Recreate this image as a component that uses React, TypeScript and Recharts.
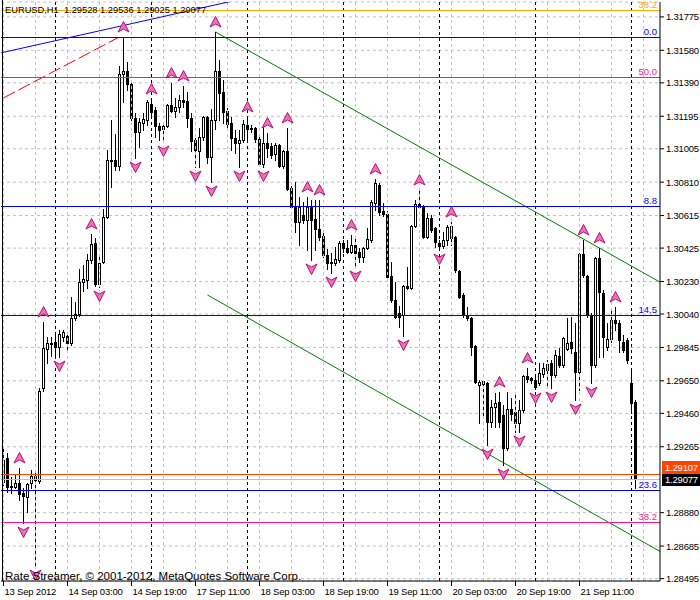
import React from 'react';
import { ComposedChart, Bar, Scatter, XAxis, YAxis, CartesianGrid, ReferenceLine } from 'recharts';

const FONT = '"Liberation Sans", Arial, sans-serif';

// Hourly EURUSD candles, 13 Sep 2012 11:00 onward
const OPEN = [
  1.29059, 1.29199, 1.29030, 1.29030, 1.29053, 1.28995, 1.28972, 1.29053, 1.29094, 1.29065,
  1.29608, 1.29836, 1.29871, 1.29877, 1.29848, 1.29906, 1.29912, 1.29871, 1.30017, 1.30040,
  1.30227, 1.30239, 1.30356, 1.30455, 1.30215, 1.30344, 1.30607, 1.30940, 1.30940, 1.30905,
  1.31442, 1.31459, 1.31383, 1.31185, 1.31103, 1.31156, 1.31173, 1.31267, 1.31232, 1.31138,
  1.31121, 1.31138, 1.31261, 1.31226, 1.31249, 1.31290, 1.31284, 1.31185, 1.31056, 1.30992,
  1.31074, 1.31191, 1.30957, 1.31173, 1.31459, 1.31337, 1.31226, 1.31156, 1.31068, 1.31039,
  1.31056, 1.31144, 1.31121, 1.31126, 1.31062, 1.30916, 1.31039, 1.31021, 1.30975, 1.31027,
  1.30905, 1.30992, 1.30776, 1.30665, 1.30578, 1.30618, 1.30589, 1.30665, 1.30595, 1.30537,
  1.30496, 1.30385, 1.30344, 1.30338, 1.30356, 1.30455, 1.30426, 1.30402, 1.30443, 1.30402,
  1.30373, 1.30426, 1.30472, 1.30688, 1.30794, 1.30642, 1.30624, 1.30262, 1.30122, 1.30046,
  1.30034, 1.30204, 1.30192, 1.30554, 1.30683, 1.30665, 1.30490, 1.30601, 1.30542, 1.30455,
  1.30437, 1.30472, 1.30484, 1.30490, 1.30291, 1.30151, 1.30034, 1.30017, 1.29853, 1.29626,
  1.29632, 1.29637, 1.29410, 1.29497, 1.29526, 1.29450, 1.29258, 1.29485, 1.29468, 1.29404,
  1.29480, 1.29678, 1.29666, 1.29655, 1.29637, 1.29690, 1.29713, 1.29754, 1.29684, 1.29795,
  1.29742, 1.29836, 1.29877, 1.29818, 1.29702, 1.30390, 1.30262, 1.30034, 1.29742, 1.30367,
  1.30163, 1.29848, 1.29894, 1.30005, 1.29988, 1.29877, 1.29888, 1.29637, 1.29528,
];
const HIGH = [
  1.29269, 1.29228, 1.29088, 1.29106, 1.29141, 1.29024, 1.29053, 1.29129, 1.29129, 1.29608,
  1.29994, 1.29906, 1.29906, 1.29923, 1.29947, 1.29947, 1.29923, 1.30140, 1.30110, 1.30303,
  1.30326, 1.30391, 1.30507, 1.30484, 1.30391, 1.30653, 1.30998, 1.31173, 1.31091, 1.31489,
  1.31658, 1.31512, 1.31407, 1.31214, 1.31185, 1.31214, 1.31290, 1.31296, 1.31249, 1.31156,
  1.31156, 1.31267, 1.31389, 1.31302, 1.31319, 1.31372, 1.31337, 1.31214, 1.31068, 1.31126,
  1.31197, 1.31197, 1.31237, 1.31687, 1.31524, 1.31407, 1.31243, 1.31191, 1.31115, 1.31115,
  1.31173, 1.31191, 1.31144, 1.31132, 1.31074, 1.31132, 1.31097, 1.31039, 1.31039, 1.31033,
  1.30998, 1.31126, 1.30788, 1.30811, 1.30724, 1.30694, 1.30724, 1.30706, 1.30706, 1.30706,
  1.30513, 1.30420, 1.30396, 1.30432, 1.30467, 1.30472, 1.30472, 1.30502, 1.30484, 1.30426,
  1.30432, 1.30542, 1.30706, 1.30829, 1.30805, 1.30688, 1.30642, 1.30344, 1.30227, 1.30087,
  1.30210, 1.30315, 1.30560, 1.30706, 1.30764, 1.30677, 1.30630, 1.30618, 1.30548, 1.30472,
  1.30519, 1.30560, 1.30578, 1.30496, 1.30297, 1.30163, 1.30081, 1.30023, 1.29859, 1.29655,
  1.29655, 1.29643, 1.29538, 1.29579, 1.29585, 1.29509, 1.29585, 1.29550, 1.29579, 1.29538,
  1.29684, 1.29725, 1.29672, 1.29678, 1.29754, 1.29754, 1.29772, 1.29772, 1.29830, 1.29842,
  1.29906, 1.30017, 1.30023, 1.29988, 1.30396, 1.30472, 1.30268, 1.30046, 1.30373, 1.30426,
  1.30180, 1.29988, 1.30075, 1.30081, 1.30005, 1.29918, 1.29900, 1.29725, 1.29536,
];
const LOW = [
  1.29042, 1.29001, 1.28995, 1.29024, 1.28954, 1.28820, 1.28884, 1.29024, 1.28569, 1.29053,
  1.29591, 1.29754, 1.29795, 1.29789, 1.29789, 1.29883, 1.29830, 1.29859, 1.30005, 1.30029,
  1.30175, 1.30192, 1.30338, 1.30204, 1.30198, 1.30338, 1.30601, 1.30782, 1.30881, 1.30881,
  1.31278, 1.31348, 1.31173, 1.30951, 1.31016, 1.31115, 1.31144, 1.31185, 1.31074, 1.31056,
  1.31045, 1.31132, 1.31220, 1.31191, 1.31220, 1.31249, 1.31132, 1.30992, 1.30899, 1.30899,
  1.31056, 1.30922, 1.30811, 1.31121, 1.31173, 1.31156, 1.31132, 1.30998, 1.30980, 1.30899,
  1.31045, 1.31056, 1.31103, 1.31045, 1.30910, 1.30899, 1.30957, 1.30951, 1.30940, 1.30899,
  1.30893, 1.30764, 1.30659, 1.30519, 1.30443, 1.30572, 1.30414, 1.30356, 1.30414, 1.30472,
  1.30373, 1.30303, 1.30280, 1.30326, 1.30344, 1.30402, 1.30396, 1.30396, 1.30315, 1.30344,
  1.30344, 1.30420, 1.30461, 1.30648, 1.30618, 1.30613, 1.30250, 1.30110, 1.30017, 1.29964,
  1.29912, 1.30186, 1.30186, 1.30548, 1.30659, 1.30484, 1.30484, 1.30519, 1.30432, 1.30414,
  1.30426, 1.30443, 1.30443, 1.30286, 1.30134, 1.30023, 1.30005, 1.29801, 1.29637, 1.29404,
  1.29439, 1.29275, 1.29380, 1.29380, 1.29380, 1.29158, 1.29246, 1.29421, 1.29351, 1.29351,
  1.29468, 1.29643, 1.29637, 1.29602, 1.29626, 1.29672, 1.29608, 1.29608, 1.29672, 1.29731,
  1.29731, 1.29830, 1.29812, 1.29538, 1.29596, 1.30256, 1.30023, 1.29637, 1.29731, 1.29789,
  1.29789, 1.29830, 1.29877, 1.29947, 1.29818, 1.29818, 1.29754, 1.29462, 1.29025,
];
const CLOSE = [
  1.29188, 1.29030, 1.29036, 1.29053, 1.28989, 1.28977, 1.29047, 1.29094, 1.29071, 1.29591,
  1.29842, 1.29871, 1.29865, 1.29848, 1.29923, 1.29935, 1.29871, 1.30017, 1.30040, 1.30227,
  1.30245, 1.30356, 1.30449, 1.30215, 1.30338, 1.30607, 1.30940, 1.30934, 1.30905, 1.31442,
  1.31459, 1.31383, 1.31185, 1.31103, 1.31162, 1.31179, 1.31278, 1.31220, 1.31138, 1.31115,
  1.31138, 1.31261, 1.31226, 1.31249, 1.31290, 1.31278, 1.31185, 1.31051, 1.30998, 1.31074,
  1.31191, 1.30957, 1.31173, 1.31459, 1.31331, 1.31220, 1.31150, 1.31068, 1.31039, 1.31056,
  1.31150, 1.31121, 1.31124, 1.31062, 1.30916, 1.31039, 1.31010, 1.30969, 1.31027, 1.30905,
  1.30992, 1.30770, 1.30665, 1.30578, 1.30665, 1.30589, 1.30665, 1.30589, 1.30537, 1.30490,
  1.30385, 1.30338, 1.30340, 1.30361, 1.30455, 1.30426, 1.30402, 1.30443, 1.30396, 1.30373,
  1.30426, 1.30478, 1.30694, 1.30805, 1.30636, 1.30624, 1.30256, 1.30122, 1.30023, 1.30023,
  1.30204, 1.30192, 1.30554, 1.30683, 1.30665, 1.30490, 1.30601, 1.30531, 1.30461, 1.30437,
  1.30472, 1.30548, 1.30554, 1.30297, 1.30140, 1.30034, 1.30017, 1.29848, 1.29643, 1.29643,
  1.29649, 1.29410, 1.29497, 1.29520, 1.29410, 1.29258, 1.29485, 1.29456, 1.29404, 1.29480,
  1.29678, 1.29661, 1.29655, 1.29614, 1.29696, 1.29725, 1.29748, 1.29684, 1.29801, 1.29742,
  1.29900, 1.29871, 1.29842, 1.29702, 1.30390, 1.30268, 1.30034, 1.29742, 1.30367, 1.30169,
  1.29906, 1.29894, 1.30005, 1.29988, 1.29888, 1.29830, 1.29772, 1.29520, 1.29077,
];

const TIME_TICK_BARS = [0, 16, 32, 48, 64, 80, 96, 112, 128, 144];
const TIME_TICK_LABELS = [
  '13 Sep 2012', '14 Sep 03:00', '14 Sep 19:00', '17 Sep 11:00', '18 Sep 03:00',
  '18 Sep 19:00', '19 Sep 11:00', '20 Sep 03:00', '20 Sep 19:00', '21 Sep 11:00',
];
const PRICE_TICKS = [
  1.31775, 1.3158, 1.3139, 1.31195, 1.31005, 1.3081, 1.30615, 1.30425, 1.3023,
  1.3004, 1.29845, 1.2965, 1.2946, 1.29265, 1.2888, 1.28685, 1.28495,
];
const GRID_BARS = [0, 8, 16, 24, 32, 40, 48, 56, 64, 72, 80, 88, 96, 104, 112, 120, 128, 136, 144, 152, 160];
const DAY_SEPARATOR_BARS = [13, 37, 61, 85, 109, 133, 157];
const UP_FRACTAL_BARS = [4, 10, 22, 30, 37, 42, 45, 53, 61, 66, 71, 76, 79, 87, 93, 104, 112, 124, 131, 145, 149, 153];
const DOWN_FRACTAL_BARS = [5, 8, 14, 24, 33, 40, 48, 52, 59, 65, 77, 82, 88, 100, 109, 121, 125, 129, 133, 137, 143, 147];

const LEVEL_PRICES = [1.31816, 1.31658, 1.31424, 1.30671, 1.30034, 1.29012, 1.28826];
const LEVEL_LABELS = ['38.2', '0.0', '50.0', '8.8', '14.5', '23.6', '38.2'];
const LEVEL_COLORS = ['#ffa500', '#0000ff', '#ff1493', '#0000ff', '#0000ff', '#0000ff', '#ff1493'];

const ASK_PRICE = 1.29107;
const BID_PRICE = 1.29077;

// trend lines: [barFrom, priceFrom, barTo, priceTo]
const TREND_LINES = [
  [-1, 1.31563, 60, 1.31882],
  [0, 1.31302, 28.5, 1.31652],
  [53, 1.31687, 170, 1.30149],
  [51, 1.30151, 170, 1.28576],
];
const TREND_COLORS = ['#0000ff', '#ff0000', '#008000', '#008000'];
const TREND_DASH = [undefined, '13 4', undefined, undefined];

const HEADER = 'EURUSD,H1  1.29528 1.29536 1.29025 1.29077';
const COPYRIGHT = 'Rate Streamer, \u00A9 2001-2012, MetaQuotes Software Corp.';

const rows = OPEN.map((o, i) => ({ i, o, h: HIGH[i], l: LOW[i], c: CLOSE[i], range: [LOW[i], HIGH[i]] }));
const upData = UP_FRACTAL_BARS.map((i) => ({ i, price: HIGH[i] }));
const downData = DOWN_FRACTAL_BARS.map((i) => ({ i, price: LOW[i] }));

const Candle = (props: any) => {
  const { x, y, width, height, payload } = props;
  if (!payload || x == null || y == null) return null;
  const { o, h, l, c } = payload;
  const cx = Math.floor(x + width / 2) + 0.5;
  const top = Math.min(y, y + height);
  const bot = Math.max(y, y + height);
  const k = h - l > 0 ? (bot - top) / (h - l) : 0;
  const yO = top + (h - o) * k;
  const yC = top + (h - c) * k;
  const bull = c >= o;
  const bTop = Math.round(Math.min(yO, yC)) + 0.5;
  const bBot = Math.round(Math.max(yO, yC)) + 0.5;
  return (
    <g>
      <line x1={cx} x2={cx} y1={Math.round(top)} y2={Math.round(bot) + 1} stroke="#000" strokeWidth={1} />
      {bBot - bTop < 1 ? (
        <line x1={cx - 1.5} x2={cx + 1.5} y1={bTop} y2={bTop} stroke="#000" strokeWidth={1} />
      ) : (
        <rect x={cx - 1} y={bTop} width={2} height={bBot - bTop} fill={bull ? '#fff' : '#000'} stroke="#000" strokeWidth={1} />
      )}
    </g>
  );
};

const UpGlyph = (p: any) =>
  p.cx == null ? null : (
    <path
      transform={`translate(${Math.floor(p.cx) + 0.5},${Math.round(p.cy) - 10})`}
      d="M0,-5.5 L5.5,5 L0,2 L-5.5,5 Z"
      fill="#e574b9"
      stroke="#b8106f"
      strokeWidth={1}
    />
  );
const DownGlyph = (p: any) =>
  p.cx == null ? null : (
    <path
      transform={`translate(${Math.floor(p.cx) + 0.5},${Math.round(p.cy) + 9})`}
      d="M0,5.5 L5.5,-5 L0,-2 L-5.5,-5 Z"
      fill="#e574b9"
      stroke="#b8106f"
      strokeWidth={1}
    />
  );

// Horizontal level line drawn as a shape snapped to a whole pixel row
const LevelShape = (color: string) => (p: any) => {
  const y = Math.round(p.y1 ?? 0) + 0.5;
  return <line x1={p.x1} x2={p.x2} y1={y} y2={y} stroke={color} strokeWidth={1} />;
};

const fibLabel = (text: string, color: string) => (p: any) => {
  const vb = p.viewBox || {};
  return (
    <text x={vb.x + vb.width - 3} y={vb.y - 2} textAnchor="end" fill={color} fontSize={9.5} fontFamily={FONT}>
      {text}
    </text>
  );
};

const priceTag = (text: string, bg: string, fg: string, shift: number) => (p: any) => {
  const vb = p.viewBox || {};
  const x0 = vb.x + vb.width;
  const yc = Math.round(vb.y) + shift;
  return (
    <g>
      <rect x={x0 + 2} y={yc - 6} width={40} height={13} fill={bg} />
      <text x={x0 + 5} y={yc + 4} fill={fg} fontSize={9.5} letterSpacing={-0.2} fontFamily={FONT}>
        {text}
      </text>
    </g>
  );
};

const XTick = (p: any) => {
  const idx = TIME_TICK_BARS.indexOf(p.payload.value);
  return (
    <text x={p.x + 1} y={p.y + 7} fontSize={9.5} letterSpacing={-0.2} fontFamily={FONT} fill="#000" textAnchor="start">
      {TIME_TICK_LABELS[idx]}
    </text>
  );
};

const YTick = (p: any) => (
  <text x={p.x} y={p.y + 3.5} fontSize={9.5} letterSpacing={-0.2} fontFamily={FONT} fill="#000" textAnchor="start">
    {Number(p.payload.value).toFixed(5)}
  </text>
);

export default function App() {
  return (
    <div style={{ position: 'absolute', left: 0, top: 0, width: 700, height: 600, background: '#fff' }}>
      <ComposedChart width={700} height={600} data={rows} margin={{ top: 2, right: 0, bottom: 0, left: 1 }}>
        <CartesianGrid vertical={false} stroke="#c0c0c0" strokeDasharray="3 3" />
        <XAxis
          type="number"
          dataKey="i"
          domain={[-0.625, 164.125]}
          allowDataOverflow
          ticks={TIME_TICK_BARS}
          interval={0}
          height={19}
          tickSize={5}
          axisLine={{ stroke: '#000' }}
          tickLine={{ stroke: '#000' }}
          tick={<XTick />}
        />
        <YAxis
          orientation="right"
          type="number"
          domain={[1.28481, 1.31862]}
          allowDataOverflow
          ticks={PRICE_TICKS}
          interval={0}
          width={40}
          tickSize={4}
          axisLine={{ stroke: '#000' }}
          tickLine={{ stroke: '#000' }}
          tick={<YTick />}
        />
        {GRID_BARS.map((b) => (
          <ReferenceLine key={'g' + b} x={b} stroke="#c0c0c0" strokeDasharray="3 3" ifOverflow="hidden" />
        ))}
        {DAY_SEPARATOR_BARS.map((b) => (
          <ReferenceLine key={'d' + b} x={b} stroke="#000" strokeDasharray="3 3" ifOverflow="hidden" />
        ))}
        {TREND_LINES.map((t, k) => (
          <ReferenceLine
            key={'t' + k}
            segment={[{ x: t[0], y: t[1] }, { x: t[2], y: t[3] }]}
            stroke={TREND_COLORS[k]}
            strokeDasharray={TREND_DASH[k]}
            ifOverflow="hidden"
          />
        ))}
        <Bar dataKey="range" barSize={3} shape={<Candle />} isAnimationActive={false} />
        {LEVEL_PRICES.map((p, k) => (
          <ReferenceLine
            key={'f' + k}
            y={p}
            stroke={LEVEL_COLORS[k]}
            ifOverflow="visible"
            shape={LevelShape(LEVEL_COLORS[k])}
            label={fibLabel(LEVEL_LABELS[k], LEVEL_COLORS[k])}
          />
        ))}
        <ReferenceLine y={BID_PRICE} stroke="#c0c0c0" ifOverflow="visible" shape={LevelShape('#c0c0c0')} label={priceTag('1.29077', '#000', '#fff', 0)} />
        <ReferenceLine y={ASK_PRICE} stroke="#ff4500" ifOverflow="visible" shape={LevelShape('#ff4500')} label={priceTag('1.29107', '#ff4500', '#fff', -7)} />
        <Scatter data={upData} dataKey="price" shape={<UpGlyph />} isAnimationActive={false} />
        <Scatter data={downData} dataKey="price" shape={<DownGlyph />} isAnimationActive={false} />
      </ComposedChart>
      <svg width={700} height={600} style={{ position: 'absolute', left: 0, top: 0, pointerEvents: 'none' }}>
        <line x1={2.5} x2={2.5} y1={0} y2={581} stroke="#000" />
        <text x={5} y={13} fontSize={9.3} fontFamily={FONT} fill="#000" style={{ whiteSpace: 'pre' }}>
          {HEADER}
        </text>
        <text x={5} y={580} fontSize={11.5} fontFamily={FONT} fill="#000">
          {COPYRIGHT}
        </text>
      </svg>
    </div>
  );
}
